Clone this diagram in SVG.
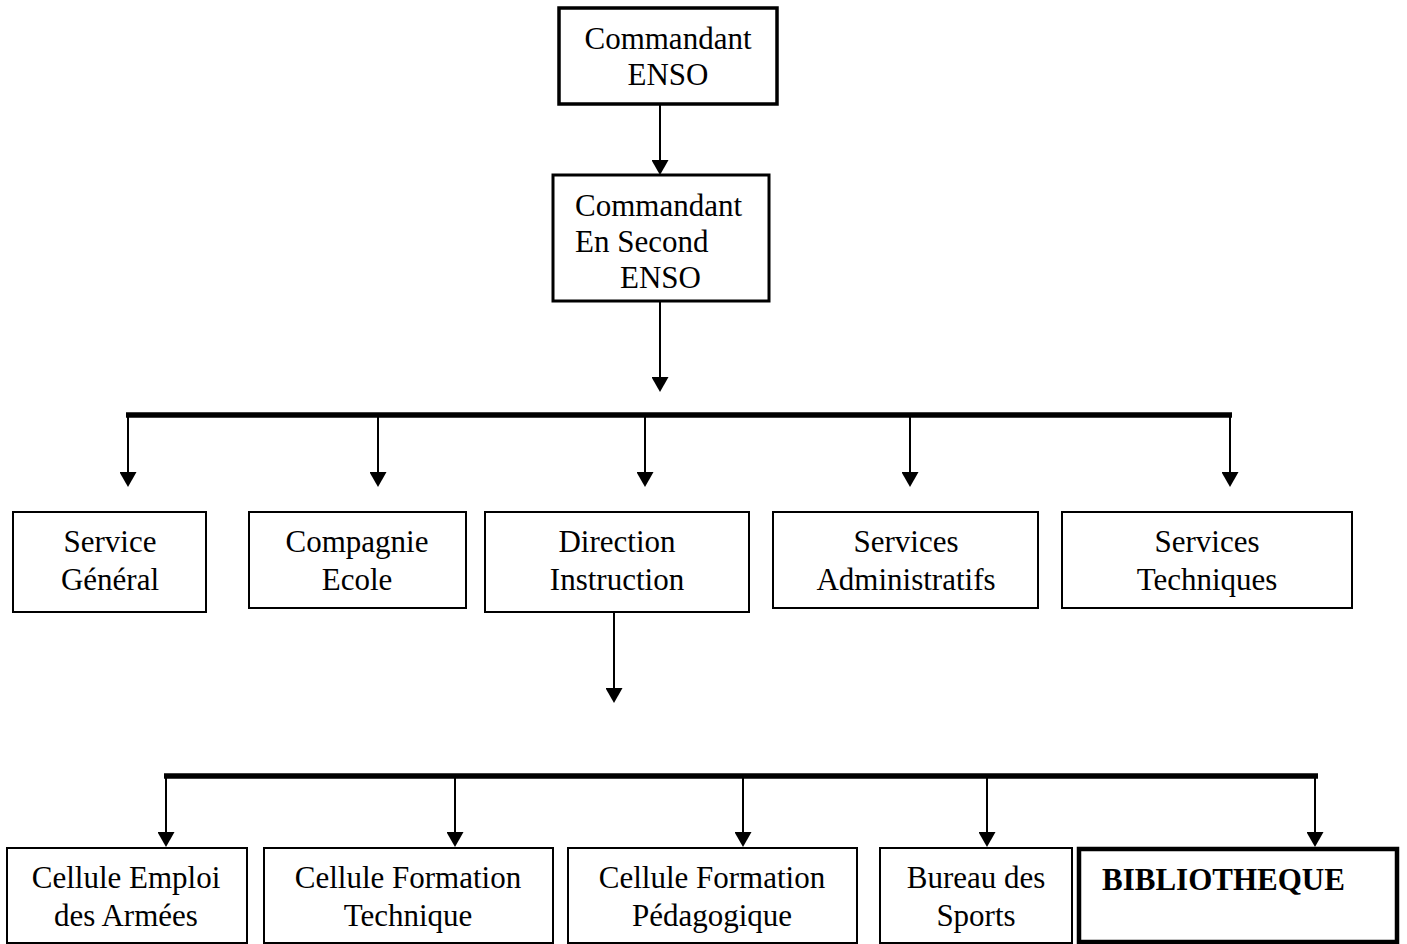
<svg xmlns="http://www.w3.org/2000/svg" width="1407" height="944" viewBox="0 0 1407 944">
  <defs>
    <style>
      .box { fill: #ffffff; stroke: #000000; stroke-width: 2; }
      .thick { stroke-width: 3.5; }
      .bold-box { stroke-width: 4.5; }
      .lbl { font-family: "Liberation Serif", "Times New Roman", serif; font-size: 31px; fill: #000000; }
      .c { text-anchor: middle; }
      .b { font-weight: bold; }
      .conn { stroke: #000000; stroke-width: 2; fill: none; }
      .bar { stroke: #000000; stroke-width: 5.5; fill: none; }
    </style>
    <marker id="arrow" markerUnits="userSpaceOnUse" viewBox="0 0 15 17" markerWidth="15" markerHeight="17" refX="0" refY="8.5" orient="auto">
      <path d="M0,0 L15,8.5 L0,17 z" fill="#000000"/>
    </marker>
  </defs>
  <rect width="1407" height="944" fill="#ffffff"/>

  <g id="connectors">
    <line class="conn" x1="660" y1="104" x2="660" y2="160" marker-end="url(#arrow)"/>
    <line class="conn" x1="660" y1="302" x2="660" y2="377" marker-end="url(#arrow)"/>
    <line class="bar" x1="126" y1="415" x2="1232" y2="415"/>
    <line class="conn" x1="128" y1="415" x2="128" y2="472" marker-end="url(#arrow)"/>
    <line class="conn" x1="378" y1="415" x2="378" y2="472" marker-end="url(#arrow)"/>
    <line class="conn" x1="645" y1="415" x2="645" y2="472" marker-end="url(#arrow)"/>
    <line class="conn" x1="910" y1="415" x2="910" y2="472" marker-end="url(#arrow)"/>
    <line class="conn" x1="1230" y1="415" x2="1230" y2="472" marker-end="url(#arrow)"/>
    <line class="conn" x1="614" y1="612" x2="614" y2="688" marker-end="url(#arrow)"/>
    <line class="bar" x1="164" y1="776" x2="1318" y2="776"/>
    <line class="conn" x1="166" y1="776" x2="166" y2="832" marker-end="url(#arrow)"/>
    <line class="conn" x1="455" y1="776" x2="455" y2="832" marker-end="url(#arrow)"/>
    <line class="conn" x1="743" y1="776" x2="743" y2="832" marker-end="url(#arrow)"/>
    <line class="conn" x1="987" y1="776" x2="987" y2="832" marker-end="url(#arrow)"/>
    <line class="conn" x1="1315" y1="776" x2="1315" y2="832" marker-end="url(#arrow)"/>
  </g>

  <g id="commandant-enso">
    <rect class="box thick" x="559" y="8" width="218" height="96"/>
    <text class="lbl c" x="668" y="49">Commandant</text>
    <text class="lbl c" x="668" y="85">ENSO</text>
  </g>

  <g id="commandant-second">
    <rect class="box" style="stroke-width:3" x="553" y="175" width="216" height="126"/>
    <text class="lbl" x="575" y="216">Commandant</text>
    <text class="lbl" x="575" y="252">En Second</text>
    <text class="lbl" x="620" y="288">ENSO</text>
  </g>

  <g id="service-general">
    <rect class="box" x="13" y="512" width="193" height="100"/>
    <text class="lbl c" x="110" y="552">Service</text>
    <text class="lbl c" x="110" y="590">Général</text>
  </g>

  <g id="compagnie-ecole">
    <rect class="box" x="249" y="512" width="217" height="96"/>
    <text class="lbl c" x="357" y="552">Compagnie</text>
    <text class="lbl c" x="357" y="590">Ecole</text>
  </g>

  <g id="direction-instruction">
    <rect class="box" x="485" y="512" width="264" height="100"/>
    <text class="lbl c" x="617" y="552">Direction</text>
    <text class="lbl c" x="617" y="590">Instruction</text>
  </g>

  <g id="services-administratifs">
    <rect class="box" x="773" y="512" width="265" height="96"/>
    <text class="lbl c" x="906" y="552">Services</text>
    <text class="lbl c" x="906" y="590">Administratifs</text>
  </g>

  <g id="services-techniques">
    <rect class="box" x="1062" y="512" width="290" height="96"/>
    <text class="lbl c" x="1207" y="552">Services</text>
    <text class="lbl c" x="1207" y="590">Techniques</text>
  </g>

  <g id="cellule-emploi">
    <rect class="box" x="7" y="848" width="240" height="95"/>
    <text class="lbl c" x="126" y="888">Cellule Emploi</text>
    <text class="lbl c" x="126" y="926">des Armées</text>
  </g>

  <g id="cellule-formation-technique">
    <rect class="box" x="264" y="848" width="289" height="95"/>
    <text class="lbl c" x="408" y="888">Cellule Formation</text>
    <text class="lbl c" x="408" y="926">Technique</text>
  </g>

  <g id="cellule-formation-pedagogique">
    <rect class="box" x="568" y="848" width="289" height="95"/>
    <text class="lbl c" x="712" y="888">Cellule Formation</text>
    <text class="lbl c" x="712" y="926">Pédagogique</text>
  </g>

  <g id="bureau-sports">
    <rect class="box" x="880" y="848" width="192" height="95"/>
    <text class="lbl c" x="976" y="888">Bureau des</text>
    <text class="lbl c" x="976" y="926">Sports</text>
  </g>

  <g id="bibliotheque">
    <rect class="box bold-box" x="1079" y="849" width="318" height="93"/>
    <text class="lbl b" x="1102" y="890">BIBLIOTHEQUE</text>
  </g>
</svg>
